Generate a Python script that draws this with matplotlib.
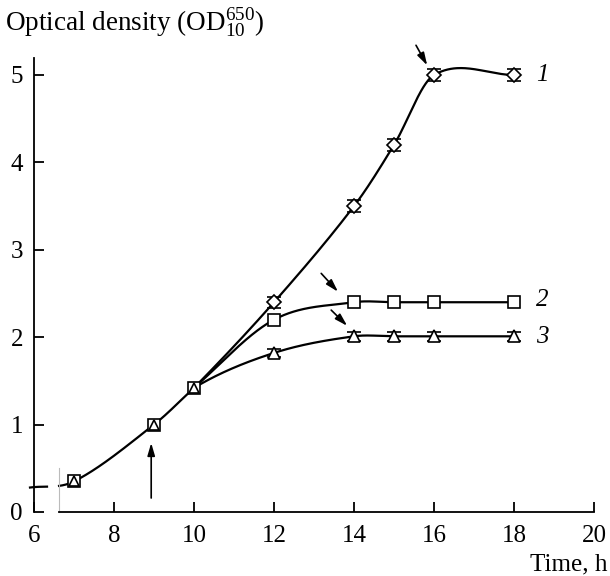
import numpy as np
import matplotlib
matplotlib.use("Agg")
import matplotlib.pyplot as plt

# ---- data ----
curve_start_t = [5.9]
curve_start_od = [0.28]
early_t = [7, 9, 10]
early_od = [0.35, 1.0, 1.42]

s1_t = [12, 14, 15, 16, 18]
s1_od = [2.40, 3.50, 4.20, 5.00, 5.00]
s1_err = [0.065, 0.065, 0.065, 0.065, 0.065]

s2_t = [12, 14, 15, 16, 18]
s2_od = [2.20, 2.40, 2.40, 2.40, 2.40]

s3_t = [12, 14, 15, 16, 18]
s3_od = [1.82, 2.01, 2.01, 2.01, 2.01]
s3_err = [0.05, 0.05, 0.05, 0.05, 0.05]

labels = ["1", "2", "3"]
xticks = [6, 8, 10, 12, 14, 16, 18, 20]
yticks = [0, 1, 2, 3, 4, 5]


def smooth_curve(x, y, xs):
    """Cubic Hermite curve with Catmull-Rom (chord) tangents."""
    x = np.asarray(x, float); y = np.asarray(y, float)
    n = len(x)
    m = np.empty(n)
    m[0] = (y[1] - y[0]) / (x[1] - x[0])
    m[-1] = (y[-1] - y[-2]) / (x[-1] - x[-2])
    for i in range(1, n - 1):
        m[i] = (y[i + 1] - y[i - 1]) / (x[i + 1] - x[i - 1])
    out = np.empty_like(xs)
    for k, xv in enumerate(xs):
        i = min(max(np.searchsorted(x, xv) - 1, 0), n - 2)
        h = x[i + 1] - x[i]
        t = (xv - x[i]) / h
        h00 = 2 * t**3 - 3 * t**2 + 1
        h10 = t**3 - 2 * t**2 + t
        h01 = -2 * t**3 + 3 * t**2
        h11 = t**3 - t**2
        out[k] = h00 * y[i] + h10 * h * m[i] + h01 * y[i + 1] + h11 * h * m[i + 1]
    return out


plt.rcParams['font.family'] = ['Liberation Serif', 'DejaVu Serif']
plt.rcParams['mathtext.fontset'] = 'custom'
plt.rcParams['mathtext.rm'] = 'Liberation Serif'
plt.rcParams['mathtext.it'] = 'Liberation Serif:italic'

fig = plt.figure(figsize=(6.10, 5.76), dpi=100)
ax = fig.add_axes([34 / 610, 64 / 576, 560 / 610, (512 - 57.5) / 576])
ax.set_xlim(6, 20)
ax.set_ylim(0, 5.2)

lw = 1.6
xs_early = np.linspace(curve_start_t[0], early_t[-1], 300)
ys_early = smooth_curve(curve_start_t + early_t, curve_start_od + early_od, xs_early)
gap = (xs_early > 6.33) & (xs_early < 6.62)
ys_plot = ys_early.copy(); ys_plot[gap] = np.nan
ax.plot(xs_early, ys_plot, color='black', lw=lw, clip_on=False, zorder=2)

for t, od in [(s1_t, s1_od), (s2_t, s2_od), (s3_t, s3_od)]:
    xx = early_t[1:] + t
    yy = early_od[1:] + od
    xs = np.linspace(early_t[-1], t[-1], 400)
    ax.plot(xs, smooth_curve(xx, yy, xs), color='black', lw=lw, zorder=2)

mk = dict(mfc='white', mec='black', mew=1.2)
ebk = dict(ecolor='black', elinewidth=1.2, capsize=5, capthick=1.2)
ax.errorbar(s1_t, s1_od, yerr=s1_err, fmt='D', ms=7, zorder=3, **mk, **ebk)
ax.plot(s2_t, s2_od, 's', ms=8, zorder=3, **mk)
ax.plot(early_t, early_od, 's', ms=8, zorder=3, **mk)
ax.errorbar(s3_t, s3_od, yerr=s3_err, fmt='^', ms=8, zorder=4, **mk, **ebk)
ax.plot(early_t, early_od, '^', ms=6.5, zorder=4, **mk)

# arrows
akw = dict(arrowstyle='-|>,head_length=0.75,head_width=0.22', color='black', lw=1.2,
           shrinkA=0, shrinkB=0)
ax.annotate('', xy=(8.93, 0.79), xytext=(8.93, 0.16), arrowprops=akw)
ax.annotate('', xy=(15.83, 5.11), xytext=(15.55, 5.34), arrowprops=akw, annotation_clip=False)
ax.annotate('', xy=(13.6, 2.52), xytext=(13.18, 2.73), arrowprops=akw)
ax.annotate('', xy=(13.83, 2.13), xytext=(13.43, 2.31), arrowprops=akw)

# series labels
ax.text(18.55, 5.0, labels[0], fontsize=18, style='italic', va='center', ha='left')
ax.text(18.55, 2.42, labels[1], fontsize=18, style='italic', va='center', ha='left')
ax.text(18.55, 2.0, labels[2], fontsize=18, style='italic', va='center', ha='left')

# axes styling
for s in ['top', 'right']:
    ax.spines[s].set_visible(False)
ax.spines['bottom'].set_bounds(6.62, 20)
ax.spines['left'].set_linewidth(1.3)
ax.spines['bottom'].set_linewidth(1.3)
ax.plot([6.62, 6.62], [0, 0.5], color='#bbbbbb', lw=0.8, clip_on=False)
ax.set_xticks(xticks)
ax.set_yticks(yticks)
ax.tick_params(direction='in', length=7, width=1.3, labelsize=18)
ax.tick_params(axis='x', pad=9)
ax.tick_params(axis='y', pad=8)

fig.text(5 / 610, 1 - 23 / 576, 'Optical density (OD$_{10}^{650}$)', fontsize=19.5,
         va='center', ha='left')
fig.text(607 / 610, 1 - 564 / 576, 'Time, h', fontsize=18, va='center', ha='right')

fig.savefig('out.png', dpi=100)
